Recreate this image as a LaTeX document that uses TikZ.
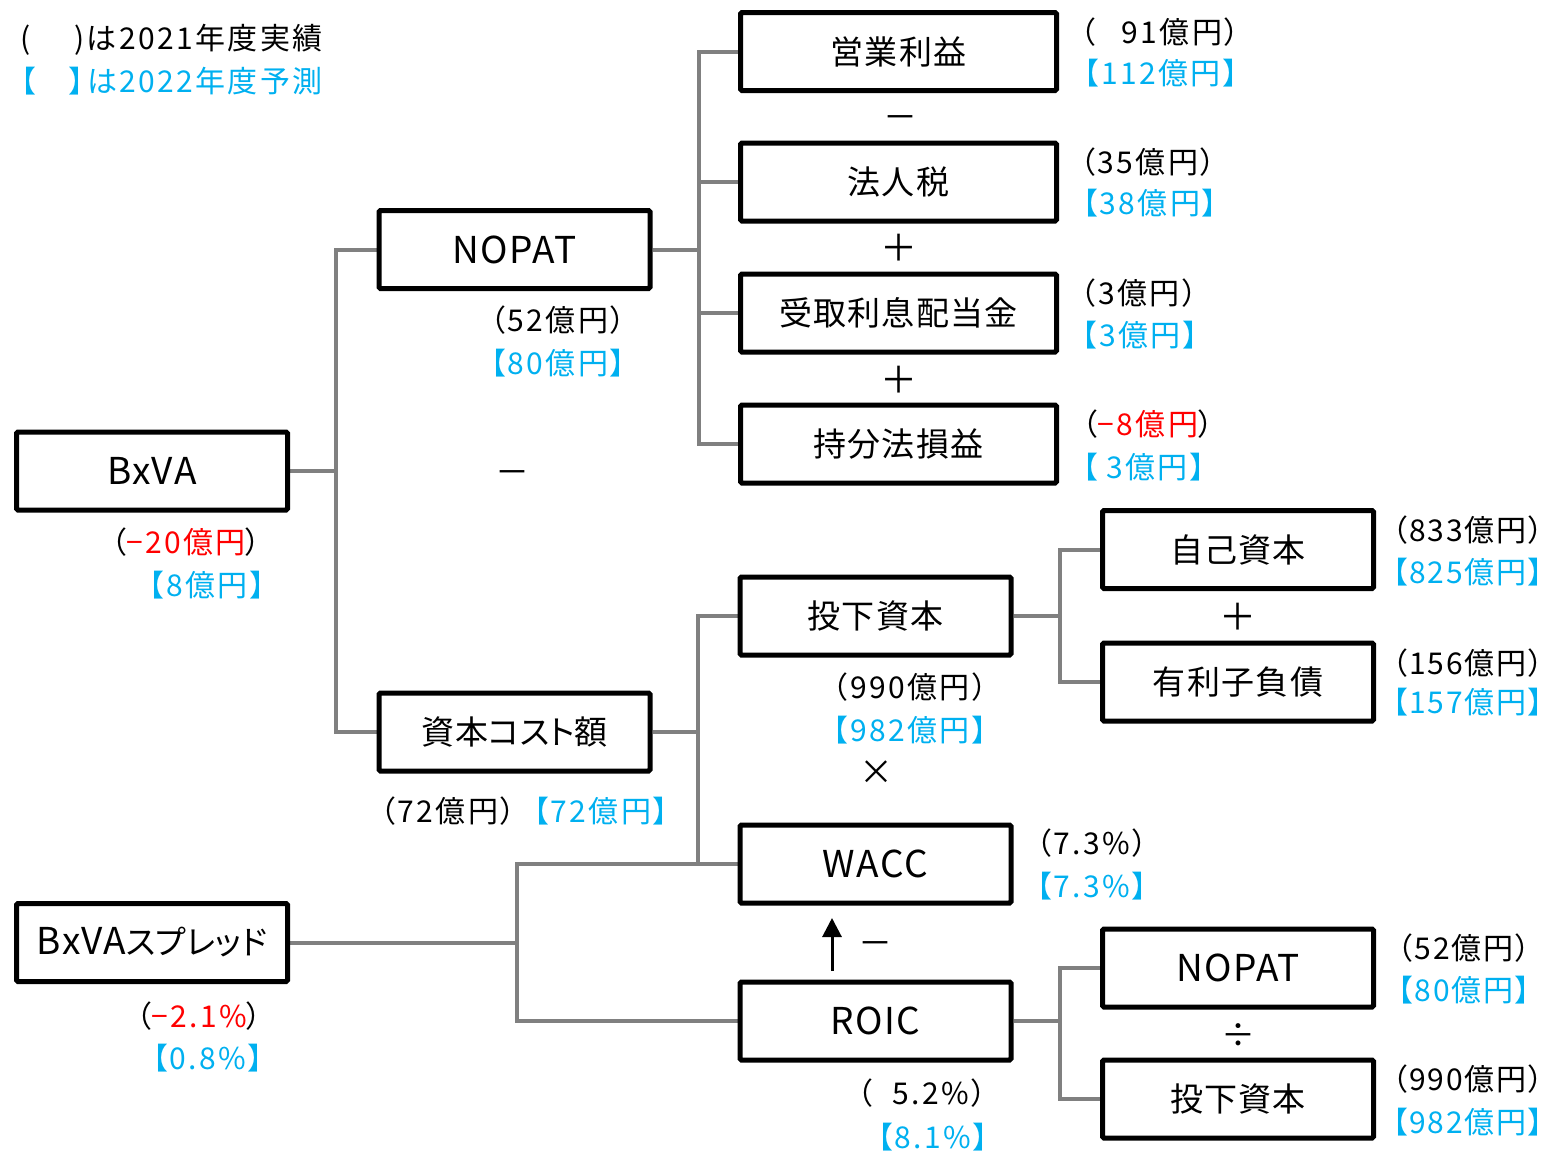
\documentclass[tikz,border=0pt]{standalone}
\usepackage{fontspec}
\setmainfont{Noto Sans CJK JP}
\newfontfamily\boxfont[LetterSpace=4]{Noto Sans CJK JP}
\newfontfamily\valfont[LetterSpace=8,CharacterWidth=AlternateProportional]{Noto Sans CJK JP}
\newfontfamily\valtfont[LetterSpace=6,CharacterWidth=AlternateProportional]{Noto Sans CJK JP}
\newfontfamily\propfont[CharacterWidth=AlternateProportional]{Noto Sans CJK JP}
\usetikzlibrary{arrows.meta,backgrounds}
\definecolor{cyanv}{RGB}{0,176,240}
\definecolor{redv}{RGB}{255,0,0}
\definecolor{connc}{RGB}{128,128,128}
\newcommand\latbig[1]{{\fontsize{37}{40}\selectfont #1}}
\begin{document}
\begin{tikzpicture}[x=1pt,y=-1pt,
  box/.style={draw=black, line width=5pt, rounded corners=1.5pt, minimum height=78pt, inner sep=0pt, font=\boxfont\fontsize{33}{36}\selectfont, fill=white},
  boxs/.style={box, minimum width=271pt},
  boxw/.style={box, minimum width=316pt},
  conn/.style={draw=connc, line width=4pt},
  val/.style={inner sep=0pt, font=\valfont\fontsize{30}{33}\selectfont},
  cval/.style={val, text=cyanv},
  tval/.style={inner sep=0pt, font=\valtfont\fontsize{30}{33}\selectfont},
  ctval/.style={tval, text=cyanv},
  op/.style={inner sep=0pt, font=\fontsize{34}{36}\selectfont},
  opplus/.style={inner sep=0pt, font=\fontsize{37}{40}\selectfont},
  arrowline/.style={line width=3pt, -{Triangle[length=19pt,width=19pt]}},
]
\useasboundingbox (0,0) rectangle (1557,1151);

% boxes
\node[boxw] (eigyo) at (898.5,51.5) {営業利益};
\node[boxw] (houjin) at (898.5,182) {法人税};
\node[boxw] (uketori) at (898.5,313) {受取利息配当金};
\node[boxw] (mochibun) at (898.5,444) {持分法損益};
\node[boxs] (nopat) at (514.5,249.5) {\latbig{NOPAT}};
\node[boxs] (bxva) at (152,471) {\latbig{BxVA}};
\node[boxs] (cost) at (514.5,732) {資本{\propfont コスト}額};
\node[boxs] (toka) at (875.5,616) {投下資本};
\node[boxs] (jiko) at (1238,549.5) {自己資本};
\node[boxs] (yuri) at (1238,682) {有利子負債};
\node[boxs] (wacc) at (875.5,864) {\latbig{WACC}};
\node[boxs] (spread) at (152,942.5) {\latbig{BxVA}{\propfont スプレッド}};
\node[boxs] (roic) at (875.5,1021) {\latbig{ROIC}};
\node[boxs] (nopat2) at (1238,968) {\latbig{NOPAT}};
\node[boxs] (toka2) at (1238,1099) {投下資本};

% connectors
\begin{pgfonlayer}{background}
\draw[conn] (bxva.east) -- ++(45.5,0) |- (nopat.west);
\draw[conn] (bxva.east) -- ++(45.5,0) |- (cost.west);
\draw[conn] (nopat.east) -- ++(46,0) |- (eigyo.west);
\draw[conn] (nopat.east) -- ++(46,0) |- (houjin.west);
\draw[conn] (nopat.east) -- ++(46,0) |- (uketori.west);
\draw[conn] (nopat.east) -- ++(46,0) |- (mochibun.west);
\draw[conn] (cost.east) -- ++(45,0) |- (toka.west);
\draw[conn] (cost.east) -- ++(45,0) |- (wacc.west);
\draw[conn] (spread.east) -- ++(226.5,0) |- (wacc.west);
\draw[conn] (spread.east) -- ++(226.5,0) |- (roic.west);
\draw[conn] (toka.east) -- ++(46,0) |- (jiko.west);
\draw[conn] (toka.east) -- ++(46,0) |- (yuri.west);
\draw[conn] (roic.east) -- ++(46,0) |- (nopat2.west);
\draw[conn] (roic.east) -- ++(46,0) |- (toka2.west);
\end{pgfonlayer}

% arrow ROIC -> WACC
\coordinate (arrtail) at (832,971);
\coordinate (arrtip) at (832,918);
\draw[arrowline] (arrtail) -- (arrtip);

% operators
\node[op] (op1) at (900,123) {－};
\node[opplus] (op2) at (899,248) {＋};
\node[opplus] (op3) at (899,380) {＋};
\node[op] (op4) at (512,478) {－};
\node[op] (op5) at (876,773) {×};
\node[opplus] (op6) at (1238,617) {＋};
\node[op] (op7) at (1238,1036) {÷};
\node[op] (op8) at (875,949) {－};

% legend
\node[val, anchor=east] (leg1) at (323,40) {(\hspace{44pt})は2021年度実績};
\node[cval, anchor=east] (leg2) at (323,81) {【\hspace{34pt}】は2022年度予測};

% values
\node[val] (v1a) at (1160,32) {（\hspace{26pt}91億円）};
\node[cval] (v1b) at (1161,73) {【112億円】};
\node[val] (v2a) at (1148,162) {（35億円）};
\node[cval] (v2b) at (1150,203) {【38億円】};
\node[val] (v3a) at (1139,293) {（3億円）};
\node[cval] (v3b) at (1140,335) {【3億円】};
\node[val] (v4a) at (1148,424) {（{\color{redv}−8億円}）};
\node[cval] (v4b) at (1144,467) {【\hspace{8pt}3億円】};
\node[val] (v5a) at (558,320) {（52億円）};
\node[cval] (v5b) at (558,363) {【80億円】};
\node[val] (v6a) at (186,542) {（{\color{redv}−20億円}）};
\node[cval] (v6b) at (207,585) {【8億円】};
\node[val] (v7a) at (910,687) {（990億円）};
\node[cval] (v7b) at (910,730) {【982億円】};
\node[val] (v8a) at (448,811) {（72億円）};
\node[cval] (v8b) at (601,811) {【72億円】};
\node[tval] (v9a) at (1468,530) {（833億円）};
\node[ctval] (v9b) at (1468,572) {【825億円】};
\node[tval] (v10a) at (1468,663) {（156億円）};
\node[ctval] (v10b) at (1468,702) {【157億円】};
\node[val] (v11a) at (1092,843) {（7.3\%）};
\node[cval] (v11b) at (1092,886) {【7.3\%】};
\node[val] (v12a) at (199,1016) {（{\color{redv}−2.1\%}）};
\node[cval] (v12b) at (208,1058) {【0.8\%】};
\node[val] (v13a) at (922,1093) {（\hspace{20pt}5.2\%）};
\node[cval] (v13b) at (933,1137) {【8.1\%】};
\node[tval] (v14a) at (1464,948) {（52億円）};
\node[ctval] (v14b) at (1464,990) {【80億円】};
\node[tval] (v15a) at (1468,1079) {（990億円）};
\node[ctval] (v15b) at (1468,1122) {【982億円】};
\end{tikzpicture}
\end{document}
